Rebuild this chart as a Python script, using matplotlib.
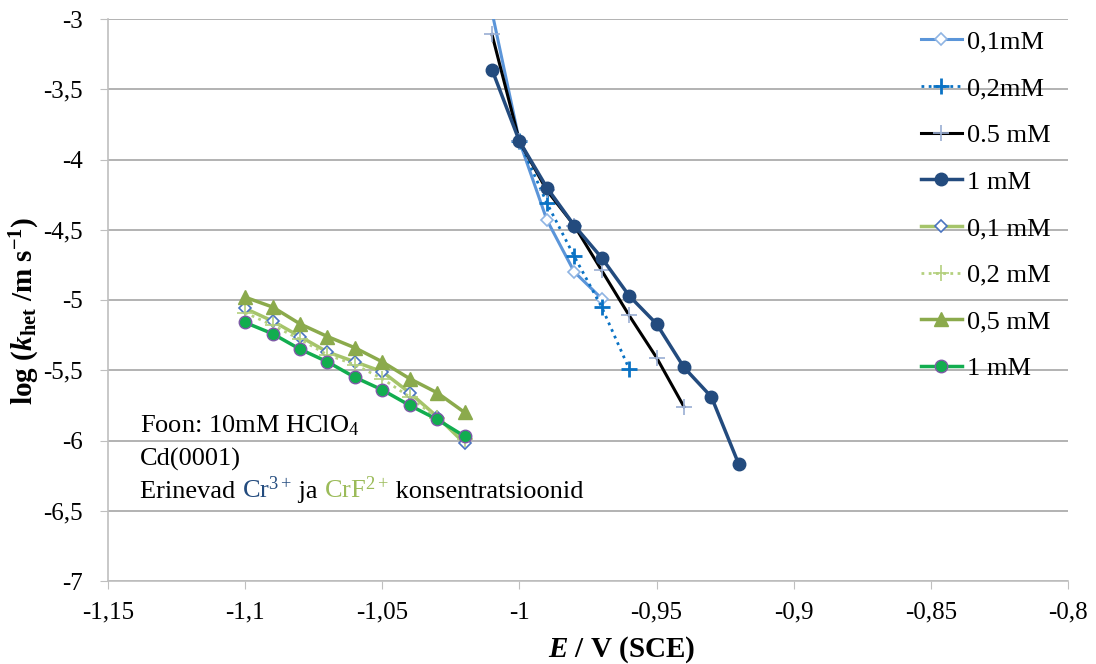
import matplotlib
matplotlib.use('Agg')
import matplotlib.pyplot as plt
from matplotlib.ticker import FuncFormatter

plt.rcParams['font.family'] = ['Liberation Serif', 'DejaVu Serif']
plt.rcParams['mathtext.fontset'] = 'custom'
plt.rcParams['mathtext.rm'] = 'Liberation Serif'
plt.rcParams['mathtext.it'] = 'Liberation Serif:italic'
plt.rcParams['mathtext.bf'] = 'Liberation Serif:bold'
plt.rcParams['mathtext.bfit'] = 'Liberation Serif:italic:bold'

# Cr3+ series
e_cr = [-1.01, -1.0, -0.99, -0.98, -0.97, -0.96, -0.95, -0.94, -0.93, -0.92]
cr_01 = [-2.95, -3.87, -4.43, -4.80, -4.99]
e_cr_02 = [-1.0, -0.99, -0.98, -0.97, -0.96]
cr_02 = [-3.87, -4.31, -4.69, -5.05, -5.49]
cr_05 = [-3.11, -3.87, -4.22, -4.47, -4.79, -5.11, -5.41, -5.76]
cr_1 = [-3.36, -3.87, -4.20, -4.47, -4.70, -4.97, -5.17, -5.48, -5.69, -6.17]

# CrF2+ series
e_crf = [-1.10, -1.09, -1.08, -1.07, -1.06, -1.05, -1.04, -1.03, -1.02]
crf_01 = [-5.06, -5.15, -5.26, -5.37, -5.44, -5.51, -5.66, -5.83, -6.02]
crf_02 = [-5.09, -5.18, -5.28, -5.39, -5.46, -5.56, -5.69, -5.84, -5.99]
crf_05 = [-4.98, -5.05, -5.17, -5.26, -5.34, -5.44, -5.56, -5.66, -5.80]
crf_1 = [-5.16, -5.24, -5.35, -5.44, -5.55, -5.64, -5.75, -5.85, -5.97]

x_ticks = [-1.15, -1.1, -1.05, -1.0, -0.95, -0.9, -0.85, -0.8]
y_ticks = [-7, -6.5, -6, -5.5, -5, -4.5, -4, -3.5, -3]

W, H = 1096, 664
fig = plt.figure(figsize=(W / 100, H / 100), dpi=100)
ax = fig.add_axes([108 / W, 1 - 581 / H, 960 / W, 562 / H])

ax.plot(e_cr[:5], cr_01, color='#5B95D9', lw=2.2, marker='D', ms=6,
        mfc='white', mec='#8FB4E3', mew=1.2, label='0,1mM')
ax.plot(e_cr_02, cr_02, color='#0A72C4', lw=2, ls=(0, (1, 1.6)), marker='+',
        ms=11, mew=2, label='0,2mM')
ax.plot(e_cr[:8], cr_05, color='black', lw=2.2, marker='+', ms=11,
        mec='#9AAED3', mew=1.2, label='0.5 mM')
ax.plot(e_cr, cr_1, color='#234B7E', lw=2.5, marker='o', ms=9,
        label='1 mM')
ax.plot(e_crf, crf_01, color='#A5C46A', lw=2.5, marker='D', ms=6,
        mfc='white', mec='#4A74C0', mew=1.2, label='0,1 mM')
ax.plot(e_crf, crf_02, color='#B4D07E', lw=2, ls=(0, (1, 1.6)), marker='+',
        ms=11, mew=1.2, label='0,2 mM')
ax.plot(e_crf, crf_05, color='#8BAA4C', lw=2.5, marker='^', ms=10,
        label='0,5 mM')
ax.plot(e_crf, crf_1, color='#12AD4F', lw=2.5, marker='o', ms=9,
        mec='#7D5AA6', mew=1, label='1 mM')

ax.set_xlim(-1.15, -0.8)
ax.set_ylim(-7, -3)
ax.set_xticks(x_ticks)
ax.set_yticks(y_ticks)
fmt = FuncFormatter(lambda v, p: ('%g' % v).replace('.', ','))
ax.xaxis.set_major_formatter(fmt)
ax.yaxis.set_major_formatter(fmt)
ax.tick_params(labelsize=18, length=6, color='#BFBFBF', direction='out')
ax.tick_params(axis='y', pad=12)
ax.tick_params(axis='x', pad=9)
ax.yaxis.grid(True, color='#A6A6A6', lw=1.2)
ax.set_axisbelow(True)
for side in ['top', 'right']:
    ax.spines[side].set_visible(False)
for side in ['left', 'bottom']:
    ax.spines[side].set_color('#BFBFBF')
    ax.spines[side].set_linewidth(1.2)

# axis titles
fig.text(622 / W, 1 - 657 / H, r'$\mathbfit{E}$ / V (SCE)', fontsize=21,
         fontweight='bold', ha='center', va='baseline')
fig.text(25 / W, 1 - 311 / H,
         r'log ($\mathbfit{k}_{\mathbf{het}}$ /m s$^{\mathbf{-1}}$)',
         fontsize=21, fontweight='bold', rotation=90, ha='center', va='center')

# note text
x0 = -1.1383
ax.text(x0, -5.94, r'Foon: 10mM HClO$_4$', fontsize=19, va='baseline')
ax.text(x0, -6.175, 'Cd(0001)', fontsize=19, va='baseline')
parts = [('Erinevad ', 'black'), (r'Cr$^{3+}$', '#234B7E'), (' ja ', 'black'),
         (r'CrF$^{2+}$', '#9BBB59'), (' konsentratsioonid', 'black')]
fig.canvas.draw()
renderer = fig.canvas.get_renderer()
px = ax.transData.transform((x0, -6.41))
for s, c in parts:
    t = fig.text(px[0] / W, px[1] / H, s, fontsize=19, color=c,
                 va='baseline', ha='left')
    bb = t.get_window_extent(renderer)
    px = (px[0] + bb.width, px[1])

fig.legend(loc='upper left', bbox_to_anchor=(921 / W, 1 - 30 / H),
           frameon=False, fontsize=19, handlelength=1.55, handletextpad=0.18,
           labelspacing=0.88, borderaxespad=0, borderpad=0)

fig.savefig('out.png', dpi=100)
